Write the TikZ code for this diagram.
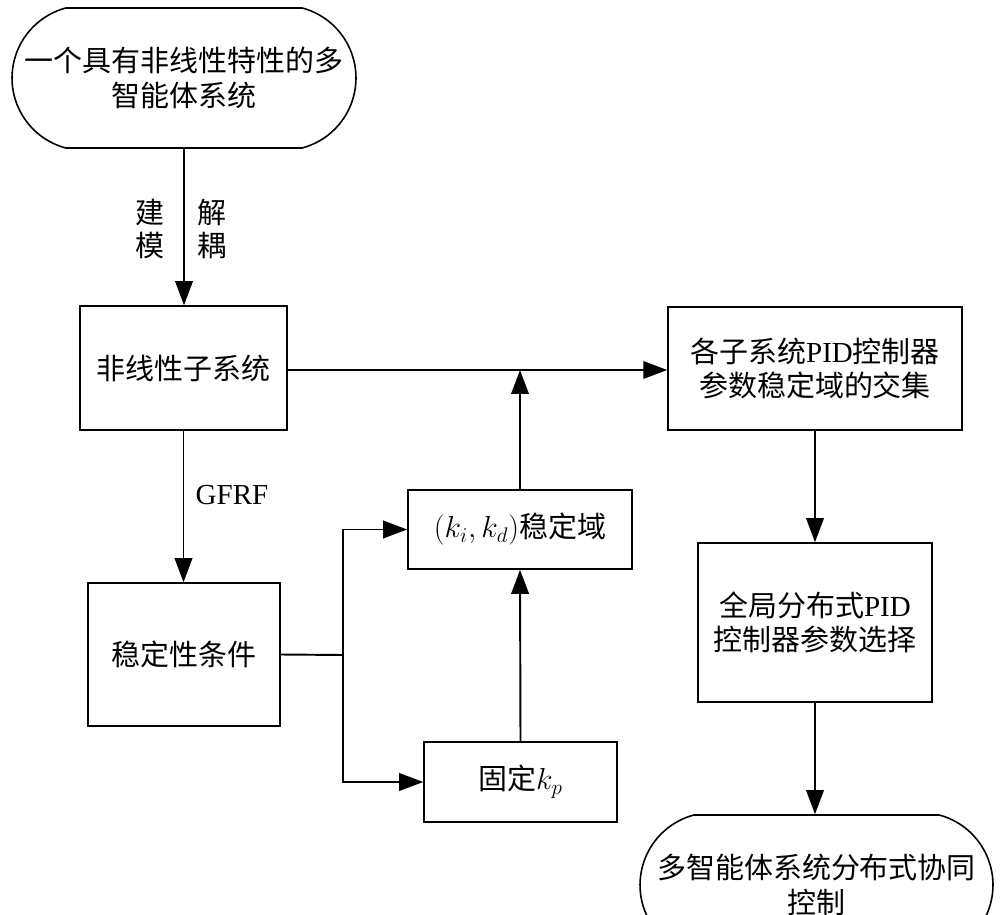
\documentclass[tikz,border=0pt]{standalone}
\usepackage{fontspec}
\setmainfont{Liberation Serif}
\newfontfamily\cjk{Noto Sans CJK SC}
\usetikzlibrary{shapes.misc,arrows.meta}

\newcommand{\zh}[1]{{\cjk #1}}

\tikzset{
	caja/.style={draw, line width=0.9pt, inner sep=0pt, align=center,
		font=\fontsize{16.5}{19.5}\selectfont},
	terminal/.style={caja, rounded rectangle, rounded rectangle arc length=150},
	etiqueta/.style={align=center, font=\fontsize{16.5}{18.5}\selectfont},
	flecha/.style={-{Triangle[length=4.8mm,width=3.5mm]}, line width=1.1pt},
	linea/.style={line width=1.1pt}
}

\begin{document}
\begin{tikzpicture}[x=0.02cm, y=-0.02cm]

\useasboundingbox (0,0) rectangle (1000,915);
\clip (0,0) rectangle (1000,915);

% Columna izquierda
\node[terminal, minimum width=6.88cm, minimum height=2.8cm] (inicio) at (184,78)
	{\zh{一个具有非线性特性的多}\\\zh{智能体系统}};
\node[caja, minimum width=4.14cm, minimum height=2.48cm] (sub) at (183.5,368) {\zh{非线性子系统}};
\node[caja, minimum width=3.84cm, minimum height=2.86cm] (cond) at (184,654.5) {\zh{稳定性条件}};

% Columna central
\node[caja, minimum width=4.48cm, minimum height=1.58cm] (kikd) at (520,529.5) {$(k_i,k_d)$\zh{稳定域}};
\node[caja, minimum width=3.86cm, minimum height=1.6cm] (kp) at (520.5,782) {\zh{固定}$k_p$};

% Columna derecha
\node[caja, minimum width=5.88cm, minimum height=2.46cm] (pid) at (815,368.5)
	{\zh{各子系统}PID\zh{控制器}\\\zh{参数稳定域的交集}};
\node[caja, minimum width=4.68cm, minimum height=3.18cm] (glob) at (815,622.5)
	{\zh{全局分布式}PID\\\zh{控制器参数选择}};
\node[terminal, minimum width=7.06cm, minimum height=2.8cm] (fin) at (816.5,885)
	{\zh{多智能体系统分布式协同}\\\zh{控制}};

% Etiquetas
\node[etiqueta] (mod) at (150,229) {\zh{建}\\\zh{模}};
\node[etiqueta] (dec) at (212,229) {\zh{解}\\\zh{耦}};
\node[etiqueta] (gfrf) at (232,495) {GFRF};

% Flechas verticales
\foreach \a/\b in {inicio/sub, sub/cond, pid/glob, glob/fin}
	\draw[flecha] (\a.south) -- (\a.south |- \b.north);

% Ramas
\coordinate (rama) at (343,655);
\coordinate (cruce) at (520,370);
\draw[linea] (cond.east) -- (rama);
\draw[flecha] (rama) |- (kikd.west);
\draw[flecha] (rama) |- (kp.west);
\draw[flecha] (kp.north) -- (kikd.south);
\draw[flecha] (kikd.north) -- (cruce);
\draw[flecha] (sub.east |- cruce) -- (pid.west |- cruce);

\end{tikzpicture}
\end{document}
